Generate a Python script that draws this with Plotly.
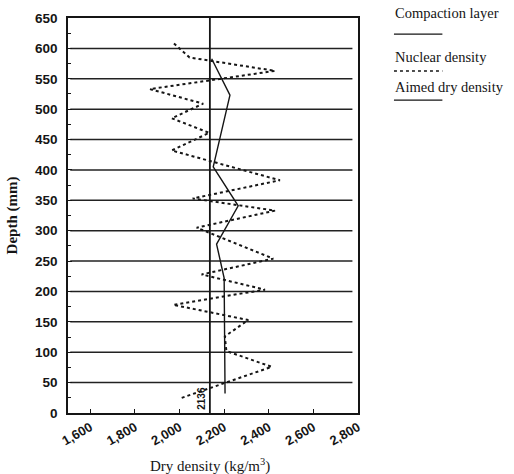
import plotly.graph_objects as go

# ---- data ----
nuclear_depth = [608, 585, 563, 533, 509, 485, 461, 432, 383, 353, 333, 305,
                 254, 228, 203, 178, 153, 126, 102, 76, 24]
nuclear_density = [1975, 2045, 2428, 1867, 2106, 1965, 2133, 1965, 2450, 2059,
                   2428, 2077, 2420, 2099, 2383, 1972, 2308, 2203, 2210, 2413, 2002]

trend_depth = [583, 523, 405, 341, 278, 222, 32]
trend_density = [2144, 2226, 2151, 2263, 2166, 2200, 2204]

compaction_depths = [50, 100, 150, 200, 250, 300, 350, 400, 450, 500, 550, 600]
layer_x_start = 1510
layer_x_end = 2775

aimed_density = 2136
aimed_label = "2136"

x_tick_vals = [1600, 1800, 2000, 2200, 2400, 2600, 2800]
x_tick_text = ["1,600", "1,800", "2,000", "2,200", "2,400", "2,600", "2,800"]
y_tick_vals = [0, 50, 100, 150, 200, 250, 300, 350, 400, 450, 500, 550, 600, 650]
y_tick_text = [str(v) for v in y_tick_vals]

legend_labels = ["Compaction layer", "Nuclear density", "Aimed dry density"]

INK = "#151515"
SANS = "Liberation Sans, Arial, sans-serif"
SERIF = "Liberation Serif, Times New Roman, serif"

fig = go.Figure()

# compaction layers (horizontal lines)
cx, cy = [], []
for d in compaction_depths:
    cx += [layer_x_start, layer_x_end, None]
    cy += [d, d, None]
fig.add_trace(go.Scatter(x=cx, y=cy, mode="lines",
                         line=dict(color="#222", width=1.5),
                         name=legend_labels[0], showlegend=False))

# solid trend line
fig.add_trace(go.Scatter(x=trend_density, y=trend_depth, mode="lines",
                         line=dict(color=INK, width=1.4),
                         showlegend=False))

# nuclear density (dotted)
fig.add_trace(go.Scatter(x=nuclear_density, y=nuclear_depth, mode="lines",
                         line=dict(color=INK, width=2, dash="dot"),
                         name=legend_labels[1], showlegend=False))

# aimed dry density (vertical)
fig.add_trace(go.Scatter(x=[aimed_density, aimed_density], y=[0, 650], mode="lines",
                         line=dict(color=INK, width=1.8),
                         name=legend_labels[2], showlegend=False))

fig.add_annotation(x=aimed_density, y=24, xref="x", yref="y", text="<b>" + aimed_label + "</b>",
                   textangle=-90, showarrow=False, xanchor="right", xshift=-1,
                   font=dict(family=SANS, size=10, color=INK))

# manual legend (text above line sample); paper y = (413 - px) / 395
leg_x = 1.121
leg_entries = [(1.013, 0.959, "solid"), (0.901, 0.866, "dot"), (0.825, 0.792, "solid")]
for (ty, ly, dash), lab in zip(leg_entries, legend_labels):
    fig.add_annotation(x=leg_x, y=ty, xref="paper", yref="paper", text=lab,
                       showarrow=False, xanchor="left", yanchor="middle",
                       font=dict(family=SERIF, size=14.5, color=INK))
    fig.add_shape(type="line", xref="paper", yref="paper",
                  x0=leg_x + 0.003, x1=leg_x + 0.17, y0=ly, y1=ly,
                  line=dict(color=INK, width=1.3 if dash == "solid" else 1.6, dash=dash))

# axis titles
fig.add_annotation(x=0.49, y=-0.132, xref="paper", yref="paper",
                   text="Dry density (kg/m<sup>3</sup>)", showarrow=False,
                   xanchor="center", yanchor="middle",
                   font=dict(family=SERIF, size=15, color=INK))
fig.add_annotation(x=-0.19, y=0.5, xref="paper", yref="paper",
                   text="<b>Depth (mm)</b>", showarrow=False, textangle=-90,
                   xanchor="center", yanchor="middle",
                   font=dict(family=SERIF, size=15, color=INK))

fig.update_xaxes(range=[1500, 2800], tickvals=x_tick_vals,
                 ticktext=["<b>" + t + "</b>" for t in x_tick_text],
                 tickangle=-30, ticks="inside", ticklen=4, tickcolor=INK,
                 showgrid=False, zeroline=False, showline=True, linecolor=INK,
                 linewidth=1.6, mirror=True,
                 tickfont=dict(family=SANS, size=13, color=INK))
fig.update_yaxes(range=[0, 650], tickvals=y_tick_vals,
                 ticktext=["<b>" + t + "</b>" for t in y_tick_text],
                 ticks="inside", ticklen=4, tickcolor=INK, ticklabelstandoff=6,
                 minor=dict(dtick=25, ticks="inside", ticklen=3, tickcolor=INK),
                 showgrid=False, zeroline=False, showline=True, linecolor=INK,
                 linewidth=1.6, mirror=True,
                 tickfont=dict(family=SANS, size=13.5, color=INK))

fig.update_layout(width=514, height=474, margin=dict(l=68, r=156, t=18, b=61),
                  plot_bgcolor="white", paper_bgcolor="white", showlegend=False)

# remove the default 8px page margin so the figure fills the window exactly
fig.write_html("out.html", config={"displayModeBar": False},
               post_script="document.body.style.margin='0px';")
